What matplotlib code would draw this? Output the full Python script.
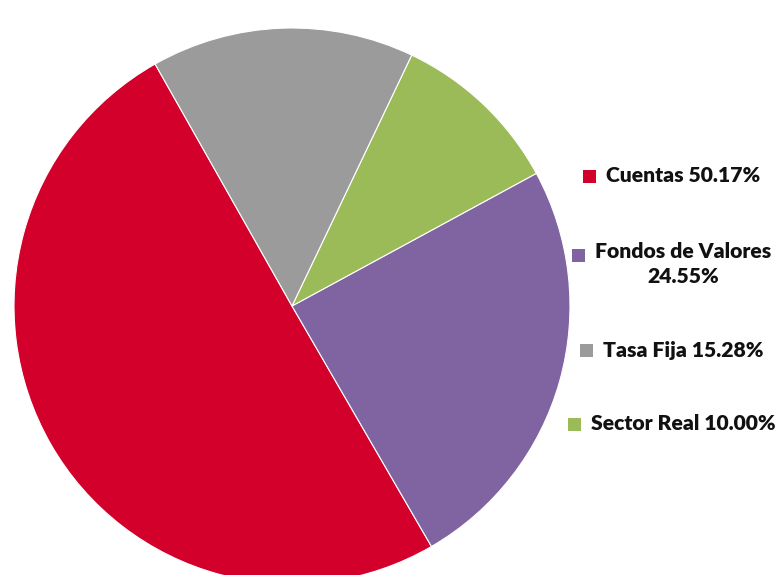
import matplotlib.pyplot as plt
from matplotlib.patches import Rectangle

labels = ["Cuentas", "Fondos de Valores", "Sector Real", "Tasa Fija"]
shares = [50.17, 24.55, 10.00, 15.28]
colors = ["#D2002A", "#8064A2", "#9BBB59", "#9B9B9B"]

# legend order as shown beside the pie
legend_order = [0, 1, 3, 2]
legend_text = ["Cuentas 50.17%", "Fondos de Valores\n24.55%", "Tasa Fija 15.28%", "Sector Real 10.00%"]
legend_y = [176, 264, 350, 424]  # pixel rows, from top

W, H = 779, 575
fig = plt.figure(figsize=(W / 100, H / 100), dpi=100)
plt.rcParams['font.family'] = ['Lato', 'DejaVu Sans']

ax = fig.add_axes([14 / W, (575 - 584) / H, 556 / W, 556 / H])
ax.pie(shares, colors=colors, startangle=119.5, counterclock=True, radius=1,
       wedgeprops=dict(edgecolor="white", linewidth=0.8))
ax.set_xlim(-1, 1)
ax.set_ylim(-1, 1)
ax.set_aspect("equal")
ax.axis("off")

fig.canvas.draw()
r = fig.canvas.get_renderer()
for k, i in enumerate(legend_order):
    t = fig.text(683 / W, 1 - legend_y[k] / H, legend_text[k], ha="center", va="center",
                 fontsize=15.2, fontweight="heavy", color="#111111", linespacing=1.35)
    bb = t.get_window_extent(r)
    if "\n" in legend_text[k]:
        # square sits beside the first line
        y0 = bb.y1 - 20
    else:
        y0 = (bb.y0 + bb.y1) / 2 - 6.5
    x0 = bb.x0 - 23
    fig.patches.append(Rectangle((x0 / W, y0 / H), 13 / W, 13 / H, transform=fig.transFigure,
                                 facecolor=colors[i], edgecolor="none"))

fig.savefig("out.png", dpi=100)
